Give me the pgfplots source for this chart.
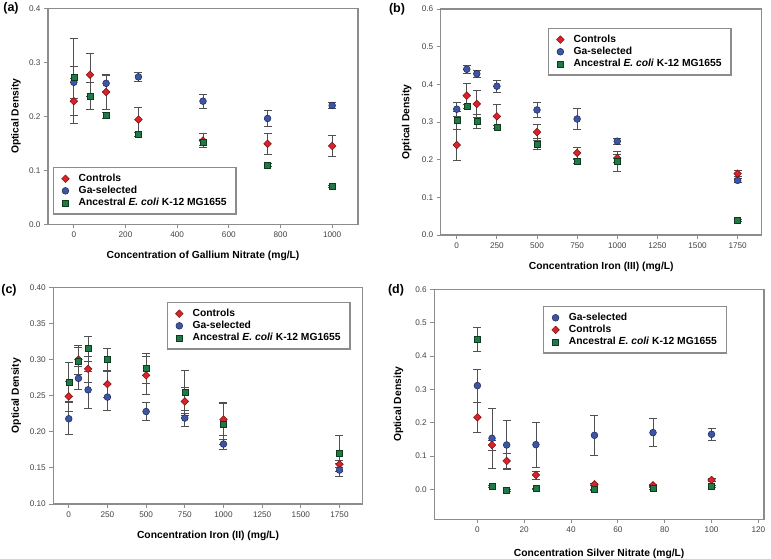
\documentclass[border=0pt]{standalone}
\usepackage{fontspec}
\setmainfont{Liberation Sans}
\usepackage{pgfplots}
\pgfplotsset{compat=1.18}
\definecolor{axisgray}{HTML}{8C8C8C}
\definecolor{tickgray}{HTML}{444444}
\definecolor{errgray}{HTML}{505050}
\definecolor{redfill}{HTML}{D9222A}
\definecolor{redline}{HTML}{7A1010}
\definecolor{bluefill}{HTML}{3D55A5}
\definecolor{blueline}{HTML}{1C2650}
\definecolor{greenfill}{HTML}{1F7A45}
\definecolor{greenline}{HTML}{0E3A20}

\pgfplotsset{
  panel/.style={
    scale only axis,
    axis line style={draw=axisgray, line width=1.3pt},
    tick style={draw=axisgray, line width=0.8pt},
    tick align=outside, major tick length=4pt,
    xtick pos=bottom, ytick pos=left,
    /pgf/number format/assume math mode=true,
    ticklabel style={font=\fontsize{8.2}{9}\selectfont, text=tickgray},
    xticklabel style={/pgf/number format/1000 sep={}},
    label style={font=\bfseries\fontsize{10.3}{12}\selectfont},
    xlabel style={at={(axis description cs:0.5,0)}, anchor=center, yshift=-32pt},
    legend cell align=left,
    legend style={draw=axisgray, line width=1.3pt, anchor=north west,
      font=\bfseries\fontsize{10.3}{12}\selectfont,
      inner xsep=8pt, inner ysep=5pt, row sep=0pt,
      nodes={inner xsep=1.5pt, inner ysep=1.3pt, text height=7.4pt, text depth=2.1pt},
      /tikz/every odd column/.style={column sep=8pt}},
  },
  ebar/.style={error bars/.cd, y dir=both, y explicit,
    error bar style={draw=errgray, line width=0.8pt},
    error mark options={rotate=90, draw=errgray, line width=0.8pt, mark size=4pt}},
  ctrl/.style={only marks, mark=square*,
    mark options={rotate=45, fill=redfill, draw=redline, line width=0.5pt, mark size=2.7pt}, ebar},
  gasel/.style={only marks, mark=*,
    mark options={fill=bluefill, draw=blueline, line width=0.5pt, mark size=3.4pt}, ebar},
  anc/.style={only marks, mark=square*,
    mark options={fill=greenfill, draw=greenline, line width=0.5pt, mark size=3pt}, ebar},
}

\begin{document}
\begin{tikzpicture}
\path[use as bounding box] (0pt,0pt) rectangle (771pt,559pt);

% (a) gallium nitrate
\begin{axis}[panel, at={(48pt,334.7pt)}, anchor=south west,
  width=310pt, height=216pt,
  xmin=-100, xmax=1100, ymin=0, ymax=0.4,
  xtick={0,200,...,1000}, ytick={0,0.1,...,0.4},
  yticklabel style={/pgf/number format/.cd, fixed, fixed zerofill, precision=1},
  xlabel={Concentration of Gallium Nitrate (mg/L)},
  ylabel={Optical Density},
  ylabel style={at={(axis description cs:-0.1032,0.5)}, anchor=center, rotate=0},
  legend style={at={(0.016,0.265)}}]
\addplot[ctrl] table[x=x, y=y, y error=e, row sep=\\] {
x y e \\ 0 0.228 0.042 \\ 62.5 0.277 0.040 \\ 125 0.245 0.032 \\ 250 0.194 0.023 \\
500 0.155 0.013 \\ 750 0.149 0.019 \\ 1000 0.145 0.020 \\};
\addlegendentry{Controls}
\addplot[gasel] table[x=x, y=y, y error=e, row sep=\\] {
x y e \\ 0 0.263 0.030 \\ 125 0.261 0.015 \\ 250 0.273 0.008 \\
500 0.228 0.013 \\ 750 0.196 0.015 \\ 1000 0.220 0.006 \\};
\addlegendentry{Ga-selected}
\addplot[anc] table[x=x, y=y, y error=e, row sep=\\] {
x y e \\ 0 0.273 0.072 \\ 62.5 0.237 0.025 \\ 125 0.202 0.005 \\ 250 0.166 0.004 \\
500 0.152 0.005 \\ 750 0.110 0.003 \\ 1000 0.070 0.002 \\};
\addlegendentry{Ancestral \textit{E. coli} K-12 MG1655}
\end{axis}

% (b) iron (III)
\begin{axis}[panel, at={(440.7pt,324pt)}, anchor=south west,
  width=321pt, height=226pt,
  xmin=-100, xmax=1900, ymin=0, ymax=0.6,
  xtick={0,250,...,1750}, ytick={0,0.1,...,0.6},
  yticklabel style={/pgf/number format/.cd, fixed, fixed zerofill, precision=1},
  xlabel={Concentration Iron (III) (mg/L)},
  ylabel={Optical Density},
  ylabel style={at={(axis description cs:-0.106,0.5)}, anchor=center},
  legend style={at={(0.334,0.916)}}]
\addplot[ctrl] table[x=x, y=y, y error=e, row sep=\\] {
x y e \\ 0 0.239 0.041 \\ 62.5 0.370 0.033 \\ 125 0.348 0.035 \\ 250 0.315 0.032 \\
500 0.273 0.021 \\ 750 0.218 0.014 \\ 1000 0.204 0.010 \\ 1750 0.163 0.008 \\};
\addlegendentry{Controls}
\addplot[gasel] table[x=x, y=y, y error=e, row sep=\\] {
x y e \\ 0 0.334 0.018 \\ 62.5 0.440 0.010 \\ 125 0.428 0.010 \\ 250 0.395 0.016 \\
500 0.332 0.021 \\ 750 0.308 0.028 \\ 1000 0.249 0.008 \\ 1750 0.145 0.006 \\};
\addlegendentry{Ga-selected}
\addplot[anc] table[x=x, y=y, y error=e, row sep=\\] {
x y e \\ 0 0.305 0.024 \\ 62.5 0.342 0.006 \\ 125 0.302 0.019 \\ 250 0.287 0.005 \\
500 0.242 0.014 \\ 750 0.195 0.006 \\ 1000 0.196 0.027 \\ 1750 0.038 0.003 \\};
\addlegendentry{Ancestral \textit{E. coli} K-12 MG1655}
\end{axis}

% (c) iron (II)
\begin{axis}[panel, at={(53.3pt,55pt)}, anchor=south west,
  width=309.4pt, height=216.7pt,
  xmin=-100, xmax=1900, ymin=0.1, ymax=0.4,
  xtick={0,250,...,1750}, ytick={0.10,0.15,...,0.40},
  yticklabel style={/pgf/number format/.cd, fixed, fixed zerofill, precision=2},
  xlabel={Concentration Iron (II) (mg/L)},
  ylabel={Optical Density},
  ylabel style={at={(axis description cs:-0.1196,0.5)}, anchor=center},
  legend style={at={(0.367,0.932)}}]
\addplot[ctrl] table[x=x, y=y, y error=e, row sep=\\] {
x y e \\ 0 0.249 0.021 \\ 62.5 0.300 0.020 \\ 125 0.287 0.018 \\ 250 0.266 0.018 \\
500 0.278 0.026 \\ 750 0.242 0.020 \\ 1000 0.217 0.022 \\ 1750 0.155 0.005 \\};
\addlegendentry{Controls}
\addplot[gasel] table[x=x, y=y, y error=e, row sep=\\] {
x y e \\ 0 0.218 0.022 \\ 62.5 0.274 0.016 \\ 125 0.258 0.026 \\ 250 0.248 0.018 \\
500 0.228 0.0125 \\ 750 0.219 0.011 \\ 1000 0.183 0.007 \\ 1750 0.147 0.009 \\};
\addlegendentry{Ga-selected}
\addplot[anc] table[x=x, y=y, y error=e, row sep=\\] {
x y e \\ 0 0.269 0.027 \\ 62.5 0.298 0.019 \\ 125 0.315 0.017 \\ 250 0.300 0.0155 \\
500 0.288 0.021 \\ 750 0.255 0.030 \\ 1000 0.211 0.029 \\ 1750 0.170 0.025 \\};
\addlegendentry{Ancestral \textit{E. coli} K-12 MG1655}
\end{axis}

% (d) silver nitrate
\begin{axis}[panel, at={(434.3pt,39.7pt)}, anchor=south west,
  width=329.7pt, height=230pt,
  xmin=-18.4, xmax=122.4, ymin=-0.09, ymax=0.6,
  xtick={0,20,...,120}, ytick={0,0.1,...,0.6},
  yticklabel style={/pgf/number format/.cd, fixed, fixed zerofill, precision=1},
  xlabel={Concentration Silver Nitrate (mg/L)},
  xlabel style={yshift=-3pt},
  ylabel={Optical Density},
  ylabel style={at={(axis description cs:-0.109,0.5)}, anchor=center},
  legend style={at={(0.330,0.927)}}]
\addplot[gasel] table[x=x, y=y, y error=e, row sep=\\] {
x y e \\ 0 0.311 0.049 \\ 6.25 0.153 0.090 \\ 12.5 0.133 0.074 \\ 25 0.134 0.068 \\
50 0.162 0.060 \\ 75 0.170 0.042 \\ 100 0.165 0.018 \\};
\addlegendentry{Ga-selected}
\addplot[ctrl] table[x=x, y=y, y error=e, row sep=\\] {
x y e \\ 0 0.216 0.045 \\ 6.25 0.133 0.015 \\ 12.5 0.085 0.022 \\ 25 0.043 0.012 \\
50 0.015 0.004 \\ 75 0.012 0.003 \\ 100 0.028 0.005 \\};
\addlegendentry{Controls}
\addplot[anc] table[x=x, y=y, y error=e, row sep=\\] {
x y e \\ 0 0.450 0.036 \\ 6.25 0.008 0.003 \\ 12.5 -0.002 0.003 \\ 25 0.002 0.002 \\
50 -0.001 0.002 \\ 75 0.003 0.002 \\ 100 0.009 0.003 \\};
\addlegendentry{Ancestral \textit{E. coli} K-12 MG1655}
\end{axis}

\node[font=\bfseries\fontsize{12.5}{14}\selectfont] at (11pt,551pt) {(a)};
\node[font=\bfseries\fontsize{12.5}{14}\selectfont] at (397pt,550pt) {(b)};
\node[font=\bfseries\fontsize{12.5}{14}\selectfont] at (9pt,269pt) {(c)};
\node[font=\bfseries\fontsize{12.5}{14}\selectfont] at (396pt,269pt) {(d)};
\end{tikzpicture}
\end{document}
